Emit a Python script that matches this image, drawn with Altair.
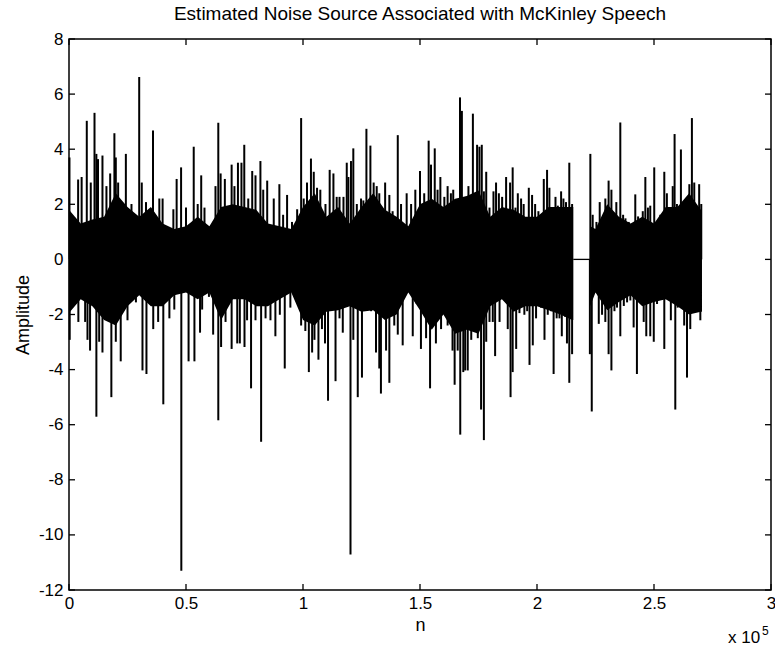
import altair as alt
import pandas as pd

TITLE = "Estimated Noise Source Associated with McKinley Speech"
FONT = "Liberation Sans"

x_ticks = [0, 50000, 100000, 150000, 200000, 250000, 300000]
y_ticks = [-12, -10, -8, -6, -4, -2, 0, 2, 4, 6, 8]

# dense core of the waveform (upper / lower edge of the solid band)
core_n = [0, 5000, 10000, 15000, 20000, 25000, 30000, 35000, 40000, 45000,
          50000, 55000, 60000, 65000, 70000, 75000, 80000, 85000, 90000, 95000,
          100000, 105000, 110000, 115000, 120000, 125000, 130000, 135000, 140000, 145000,
          150000, 155000, 160000, 165000, 170000, 175000, 180000, 185000, 190000, 195000,
          200000, 205000, 210000, 215000, 215500,
          222700, 225000, 230000, 235000, 240000, 245000, 250000, 255000, 260000, 265000,
          270000, 270500]
core_hi = [1.8, 1.3, 1.45, 1.55, 2.4, 1.9, 1.55, 1.9, 1.3, 1.1,
           1.2, 1.55, 1.2, 1.9, 2.0, 1.9, 1.8, 1.3, 1.2, 1.1,
           1.9, 2.4, 1.55, 1.9, 1.3, 1.9, 2.4, 1.8, 1.55, 1.2,
           2.0, 2.2, 1.9, 2.2, 2.3, 2.5, 1.55, 1.9, 1.8, 1.55,
           1.55, 1.9, 1.9, 1.9, 1.9,
           1.2, 1.1, 2.0, 1.55, 1.3, 1.55, 1.3, 1.9, 1.9, 2.4,
           1.8, 1.8]
core_lo = [-1.95, -1.45, -1.7, -2.2, -2.4, -1.7, -1.3, -1.7, -1.7, -1.3,
           -1.2, -1.45, -1.2, -2.2, -1.45, -1.45, -1.7, -1.7, -1.45, -1.2,
           -2.2, -2.4, -1.9, -1.85, -1.7, -1.9, -1.85, -2.2, -2.0, -1.2,
           -1.85, -2.55, -2.0, -2.7, -2.55, -2.7, -1.7, -1.45, -1.9, -1.7,
           -1.7, -1.85, -2.0, -2.2, -2.2,
           -1.7, -1.2, -1.85, -1.55, -1.3, -1.7, -1.55, -1.45, -1.7, -2.0,
           -1.9, -1.9]

# flat (zero) stretch
gap_n = [215500, 222700]
gap_v = [0, 0]

# individual excursions above zero
up_n = [200, 3900, 5400, 7600, 9300, 10900, 11700, 12400, 14300, 16000, 17600, 19400, 20000, 21000,
        24300, 26700, 30000, 31100, 32900, 35900, 38600, 40000, 44600, 46000, 47900, 50000, 53300, 55000,
        56500, 57900, 62600, 63800, 64800, 66600, 69500, 70700, 72200, 73700, 74900, 76600, 78300, 79700,
        81800, 83000, 84700, 87500, 89900, 91500, 93200, 95300, 97500, 99200, 100300, 101700, 103400,
        104600, 106000, 107400, 109600, 111400,
        113000, 114400, 115600, 117300, 118700, 119400, 120500, 121500, 123000, 124800, 125800, 127100,
        128800, 130200, 131500, 132600, 135100, 136900, 138300, 140500, 141900, 144300, 146200, 148000,
        150000, 151800, 153700, 154700, 156300, 157500, 158700, 160400, 161800, 163200, 164200, 165400,
        167100, 167900,
        169700, 170700, 172600, 173600, 174400, 175400, 176400, 177300, 178300, 179700, 181400, 182500,
        183700, 185100, 186800, 188500, 189600, 190800, 191800, 193200, 194300, 196500, 197900, 199200,
        200600, 202900, 204300, 205300, 206300, 207900, 208900, 210300, 211300, 212400, 213800, 215000,
        222800, 223800, 225400, 226800, 227800, 229200, 230600, 231800, 232800, 233900, 235600, 236800,
        237800, 239200, 240600, 242000, 243200, 245200, 246300, 247400, 248400, 250100, 251300, 252700,
        254400, 255500, 257000, 258000, 258800, 259800, 261500, 262700, 264100, 265100, 266200, 267200,
        268300, 269300, 270200]
up_v = [3.70, 2.90, 2.99, 5.03, 2.79, 5.32, 3.83, 3.64, 3.77, 2.66, 3.12, 4.58, 3.70, 2.79,
        3.83, 2.01, 6.62, 2.79, 2.08, 4.68, 2.21, 2.21, 1.82, 2.92, 3.34, 1.88, 4.09, 2.01,
        3.05, 1.88, 2.66, 4.96, 3.12, 2.92, 3.44, 2.66, 3.51, 3.51, 4.16, 2.21, 3.21, 3.05,
        3.57, 2.53, 2.86, 2.21, 2.73, 1.62, 2.34, 1.36, 1.82, 5.13, 2.21, 2.79, 3.66,
        3.18, 2.60, 2.53, 2.01, 3.25,
        3.12, 2.27, 2.27, 2.27, 3.51, 2.99, 3.57, 4.03, 2.01, 2.21, 2.14, 4.74,
        4.13, 2.79, 2.66, 2.40, 2.79, 2.34, 1.75, 4.51, 2.01, 2.40, 2.01, 2.53,
        3.21, 2.40, 4.31, 3.44, 4.03, 2.53, 2.99, 2.27, 2.66, 2.40, 2.53, 1.56,
        5.88, 5.39,
        2.27, 2.66, 5.29, 2.40, 4.16, 4.09, 4.16, 2.47, 3.18, 1.88, 2.47, 2.79,
        2.40, 2.27, 2.99, 2.79, 3.34, 1.88, 2.40, 2.21, 2.01, 2.60, 2.34, 2.01,
        1.75, 2.92, 3.25, 2.60, 1.36, 2.27, 1.95, 2.47, 2.21, 2.08, 3.51, 2.01,
        3.83, 1.62, 1.36, 2.08, 1.10, 2.21, 2.86, 2.53, 0.84, 2.08, 4.97, 1.62,
        1.49, 1.36, 1.04, 2.36, 1.56, 1.75, 2.99, 1.88, 1.95, 3.34, 1.30, 1.62,
        3.18, 2.40, 1.04, 2.66, 4.55, 2.01, 3.99, 1.30, 1.88, 2.73, 5.13, 2.79,
        1.62, 2.73, 2.01]

# individual excursions below zero
dn_n = [300, 4000, 6900, 7900, 9000, 11700, 12900, 14300, 18100, 20000, 22100, 25000, 28600, 31400,
        33100, 36000, 38100, 40300, 42900, 45000, 48000, 51100, 53600, 56000,
        56900, 59800, 61600, 63800, 65000, 66900, 69500, 71900, 73000, 75000, 76100, 77800, 79700,
        82100, 84000, 86100, 88200, 90100, 92200, 94600, 97500, 99200, 101000, 102500, 103900,
        104900, 106600, 108100, 109400, 110700,
        113900, 115600, 117000, 118400, 120300, 121500, 123400, 125200, 126900, 129100, 131200,
        132600, 133300, 135500, 136900, 139000, 140500, 142600, 146900, 148600, 150400, 152600,
        154300, 156800, 159000, 161800, 163900, 164800, 166100, 167200, 168500,
        169300, 170400, 171900, 173300, 174700, 176100, 177300, 178300, 179700, 181100, 182100,
        184000, 187500, 188700, 189600, 191100, 192500, 194600, 195800, 196800, 198200, 199600,
        201700, 203200, 204600, 206000, 207100, 208400, 209600, 210600, 212000, 212800, 213800, 215000,
        222600, 223400, 226400, 227800, 229200, 230600, 231800, 233100, 234200, 235600, 237100,
        238500, 239900, 241300, 242700, 244200, 245600, 246700, 248400, 249900, 251300, 252700,
        254400, 255800, 257200, 259100, 260100, 262000, 262900, 264100, 265500, 266900, 268300, 269800]
dn_v = [-2.92, -2.27, -2.27, -2.92, -3.31, -5.71, -2.99, -3.38, -5.00, -2.99, -3.70, -2.21, -1.56, -4.03,
        -4.16, -2.53, -2.27, -5.26, -2.14, -1.82, -11.30, -3.70, -3.70, -2.66,
        -1.82, -1.36, -2.73, -5.84, -3.18, -2.27, -3.25, -3.05, -3.05, -3.18, -2.21, -4.68, -2.21,
        -6.62, -2.14, -2.21, -2.79, -2.01, -3.96, -1.75, -1.23, -2.40, -2.60, -4.09, -3.38,
        -2.92, -3.64, -2.53, -3.05, -5.13,
        -4.42, -2.14, -2.66, -1.49, -10.71, -2.92, -5.00, -4.29, -1.82, -1.88, -3.38,
        -3.96, -4.87, -3.31, -4.48, -2.40, -2.73, -3.12, -2.79, -1.62, -3.25, -2.86,
        -4.68, -3.05, -2.53, -2.40, -3.31, -4.55, -3.31, -6.36, -4.09,
        -4.03, -4.03, -2.92, -2.60, -2.86, -5.45, -6.56, -2.99, -2.27, -2.27, -3.51,
        -2.27, -2.53, -5.00, -4.09, -3.25, -1.95, -2.01, -1.88, -3.83, -3.12, -2.14,
        -1.75, -2.92, -2.01, -1.88, -4.16, -2.14, -2.14, -2.79, -2.08, -3.05, -4.48, -3.44,
        -3.44, -5.52, -2.34, -2.01, -2.27, -3.44, -4.03, -1.88, -1.75, -2.79, -1.69,
        -1.56, -1.49, -2.47, -4.16, -1.56, -2.27, -2.79, -2.79, -2.99, -1.62, -1.36,
        -3.25, -1.43, -2.21, -5.45, -1.75, -1.49, -2.40, -4.29, -2.53, -1.75, -1.69, -2.21]

W, H = 702, 551

core_df = pd.DataFrame({"n": core_n, "v": core_hi, "v2": core_lo})
core_df["seg"] = [1 if n <= 215500 else 2 for n in core_n]
gap_df = pd.DataFrame({"n": gap_n, "v": gap_v})
spk_df = pd.DataFrame({"n": up_n + dn_n, "v": up_v + dn_v})
spk_df["v2"] = 0.0
xt_df = pd.DataFrame({"n": x_ticks})
yt_df = pd.DataFrame({"v": y_ticks})

xs = alt.Scale(domain=[0, 300000], nice=False, zero=False)
ys = alt.Scale(domain=[-12, 8], nice=False, zero=False)

xaxis = alt.Axis(values=x_ticks, labelExpr="toString(datum.value / 100000)",
                 domain=False, ticks=False, grid=False, labelPadding=5,
                 titlePadding=5, labelFlush=False,
                 labelFont=FONT, labelFontSize=17, labelColor="black",
                 titleFont=FONT, titleFontSize=18, titleFontWeight="normal", titleColor="black")
yaxis = alt.Axis(values=y_ticks, domain=False, ticks=False, grid=False,
                 labelExpr="datum.value < 0 ? '-' + toString(abs(datum.value)) : toString(datum.value)",
                 labelPadding=6, titlePadding=6,
                 labelFont=FONT, labelFontSize=17, labelColor="black",
                 titleFont=FONT, titleFontSize=18, titleFontWeight="normal", titleColor="black")

X = alt.X("n:Q", scale=xs, axis=xaxis, title="n")
Y = alt.Y("v:Q", scale=ys, axis=yaxis, title="Amplitude")

core = alt.Chart(core_df).mark_area(color="black", opacity=1, interpolate="linear").encode(
    x=X, y=Y, y2="v2:Q", detail="seg:N")

spikes = alt.Chart(spk_df).mark_rule(color="black", strokeWidth=2).encode(
    x=X, y=Y, y2="v2:Q")

gap = alt.Chart(gap_df).mark_line(color="black", strokeWidth=1.3).encode(x=X, y=Y)

tick_b = alt.Chart(xt_df).mark_rule(color="black", strokeWidth=1.3).encode(
    x=X, y=alt.value(H), y2=alt.value(H - 6))
tick_t = alt.Chart(xt_df).mark_rule(color="black", strokeWidth=1.3).encode(
    x=X, y=alt.value(0), y2=alt.value(6))
tick_l = alt.Chart(yt_df).mark_rule(color="black", strokeWidth=1.3).encode(
    y=Y, x=alt.value(0), x2=alt.value(6))
tick_r = alt.Chart(yt_df).mark_rule(color="black", strokeWidth=1.3).encode(
    y=Y, x=alt.value(W - 6), x2=alt.value(W))

txt_df = pd.DataFrame({"a": [0]})
exp_base = alt.Chart(txt_df).mark_text(text="x 10", font=FONT, fontSize=17, align="left",
                                       baseline="alphabetic", color="black").encode(
    x=alt.value(W - 43), y=alt.value(H + 53))
exp_sup = alt.Chart(txt_df).mark_text(text="5", font=FONT, fontSize=12, align="left",
                                      baseline="alphabetic", color="black").encode(
    x=alt.value(W - 9), y=alt.value(H + 45))

chart = alt.layer(core, spikes, gap, tick_b, tick_t, tick_l, tick_r, exp_base, exp_sup).properties(
    width=W, height=H,
    background="white",
    title=alt.TitleParams(TITLE, font=FONT, fontSize=19, fontWeight="normal", color="black",
                          anchor="middle", offset=6),
    autosize=alt.AutoSizeParams(type="none"),
    padding={"left": 69, "top": 39, "right": 4, "bottom": 56},
).configure_view(stroke="black", strokeWidth=1.5)

chart.save("out.html", embed_options={"renderer": "svg", "actions": False})
